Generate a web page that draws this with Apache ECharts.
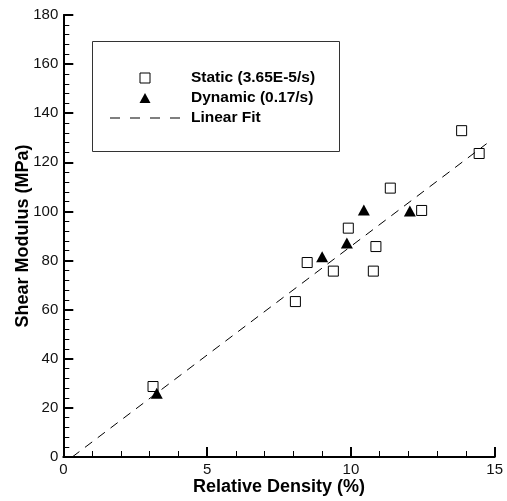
<!DOCTYPE html>
<html>
<head>
<meta charset="utf-8">
<script src="https://cdn.jsdelivr.net/npm/echarts@6/dist/echarts.min.js"></script>
<style>html,body{margin:0;padding:0;background:#fff}#c{width:507px;height:501px}</style>
</head>
<body>
<div id="c"></div>
<script>
const seriesNames = ['Static (3.65E-5/s)', 'Dynamic (0.17/s)', 'Linear Fit'];
const staticX = [13.85, 14.46, 11.37, 12.46, 9.91, 10.87, 8.48, 9.39, 10.78, 8.07, 3.12];
const staticY = [132.9, 123.6, 109.5, 100.4, 93.2, 85.7, 79.2, 75.7, 75.7, 63.3, 28.7];
const dynamicX = [10.45, 12.05, 9.86, 9.0, 3.25];
const dynamicY = [100.6, 100.2, 87.1, 81.6, 26.0];
const fitX = [0.31, 14.72];
const fitY = [0, 127.6];
const xTicks = [0, 5, 10, 15];
const yTicks = [0, 20, 40, 60, 80, 100, 120, 140, 160, 180];

const zip = (a, b) => a.map((v, i) => [v, b[i]]);
const FONT = '"Liberation Sans", Arial, sans-serif';

const chart = echarts.init(document.getElementById('c'), null, {renderer: 'canvas'});
const axisCommon = {
  axisLine: {show: true, onZero: false, lineStyle: {color: '#000', width: 2}},
  axisTick: {show: true, inside: true, length: 10, lineStyle: {color: '#000', width: 2}},
  minorTick: {show: true, splitNumber: 5, length: 6, lineStyle: {color: '#000', width: 1}},
  splitLine: {show: false},
  axisLabel: {color: '#111', fontSize: 15, fontFamily: FONT},
  nameLocation: 'middle',
  nameMoveOverlap: false,
  nameTextStyle: {color: '#000', fontSize: 18, fontWeight: 'bold', fontFamily: FONT}
};
chart.setOption({
  animation: false,
  backgroundColor: '#fff',
  grid: {left: 63.3, right: 12.3, top: 15, bottom: 43.7, containLabel: false},
  xAxis: Object.assign({}, axisCommon, {
    type: 'value', min: xTicks[0], max: xTicks[xTicks.length - 1], interval: 5,
    name: 'Relative Density (%)', nameGap: 21,
    axisLabel: Object.assign({}, axisCommon.axisLabel, {margin: 5})
  }),
  yAxis: Object.assign({}, axisCommon, {
    type: 'value', min: yTicks[0], max: yTicks[yTicks.length - 1], interval: 20,
    name: 'Shear Modulus (MPa)', nameGap: 31,
    axisLabel: Object.assign({}, axisCommon.axisLabel, {margin: 5})
  }),
  legend: {
    orient: 'vertical', left: 110, top: 68, padding: 0,
    itemWidth: 70, itemHeight: 10, itemGap: 0, symbolKeepAspect: true,
    data: [
      {name: seriesNames[0], icon: 'path://M0,0h10v10h-10z', itemStyle: {borderWidth: 1}},
      {name: seriesNames[1], icon: 'path://M5.5,0L11,10L0,10z'},
      {name: seriesNames[2], icon: 'path://M0,0h10v1h-10zM20,0h10v1h-10zM40,0h10v1h-10zM60,0h10v1h-10z'}
    ],
    textStyle: {color: '#000', fontSize: 15.5, fontWeight: 'bold', fontFamily: FONT, lineHeight: 20, padding: [0, 0, 0, 6]}
  },
  graphic: [{
    type: 'rect', left: 90, top: 39, silent: true,
    shape: {width: 247, height: 110},
    style: {fill: 'none', stroke: '#333', lineWidth: 1}
  }],
  series: [
    {
      name: seriesNames[2], type: 'line', data: zip(fitX, fitY), symbol: 'none',
      lineStyle: {color: '#000', width: 1, type: [9, 7]}, itemStyle: {color: '#000'}, z: 1
    },
    {
      name: seriesNames[0], type: 'scatter', data: zip(staticX, staticY), symbol: 'rect', symbolSize: 10,
      itemStyle: {color: 'rgba(255,255,255,0)', borderColor: '#000', borderWidth: 1, opacity: 1}, z: 2
    },
    {
      name: seriesNames[1], type: 'scatter', data: zip(dynamicX, dynamicY), symbol: 'triangle', symbolSize: [12, 11],
      itemStyle: {color: '#000', opacity: 1}, z: 3
    }
  ]
});
</script>
</body>
</html>
